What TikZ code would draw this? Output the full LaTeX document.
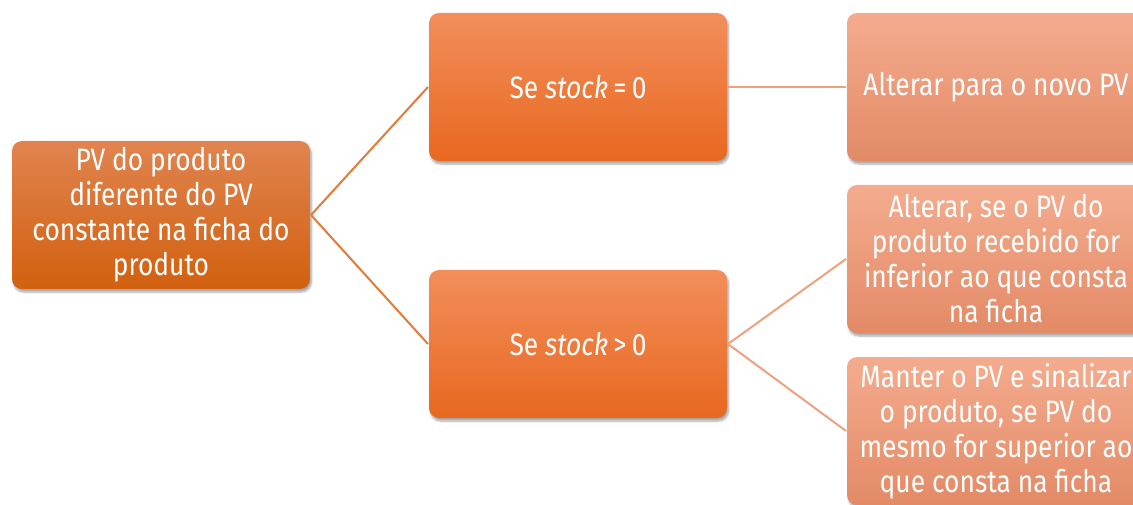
\documentclass[tikz,border=0pt]{standalone}
\usepackage{fontspec}
\setmainfont[FakeStretch=0.85]{Fira Sans}
\usetikzlibrary{shadows.blur}

\definecolor{raizcima}{HTML}{E0844F}
\definecolor{raizbaixo}{HTML}{D2600F}
\definecolor{ramocima}{HTML}{F28E5C}
\definecolor{ramobaixo}{HTML}{E8681F}
\definecolor{folhacima}{HTML}{F4AC8E}
\definecolor{folhabaixo}{HTML}{E38A66}
\definecolor{linhaforte}{HTML}{E27A3A}
\definecolor{linhafraca}{HTML}{F0A07E}

\begin{document}
\begin{tikzpicture}[
            x = 1pt, y = -1pt, % one unit per pixel, y going down
            line width = 2pt, % line style
            font = \fontsize{31}{35}\selectfont
        ]

        \tikzstyle{caixa}=[
            rectangle,
            rounded corners = 10pt,
            minimum width = 298pt,
            minimum height = 148pt,
            inner sep = 3pt,
            text = white,
            align = center,
            blur shadow = {shadow xshift=1.5pt, shadow yshift=-3pt, shadow opacity=35, shadow blur steps=6}
        ]
        \tikzstyle{raiz}=[caixa, top color = raizcima, bottom color = raizbaixo]
        \tikzstyle{ramo}=[caixa, top color = ramocima, bottom color = ramobaixo]
        \tikzstyle{folha}=[caixa, top color = folhacima, bottom color = folhabaixo]

        \useasboundingbox (0,0) rectangle (1133,505);

        \node[raiz] (pv) at (161,215) {PV do produto\\diferente do PV\\constante na ficha do\\produto};

        \node[ramo] (zero) at (578,87) {Se \textit{stock}\,=\,0};
        \node[ramo] (maior) at (578,344) {Se \textit{stock}\,>\,0};

        \node[folha] (novo) at (996,87) {Alterar para o novo PV};
        \node[folha] (inferior) at (996,259) {Alterar, se o PV do\\produto recebido for\\inferior ao que consta\\na ficha};
        \node[folha] (superior) at (996,431) {Manter o PV e sinalizar\\o produto, se PV do\\mesmo for superior ao\\que consta na ficha};

        \path[draw = linhaforte] (pv.east) edge (zero.west);
        \path[draw = linhaforte] (pv.east) edge (maior.west);
        \path[draw = linhafraca] (zero.east) edge (novo.west);
        \path[draw = linhafraca] (maior.east) edge (inferior.west);
        \path[draw = linhafraca] (maior.east) edge (superior.west);

    \end{tikzpicture}
\end{document}
